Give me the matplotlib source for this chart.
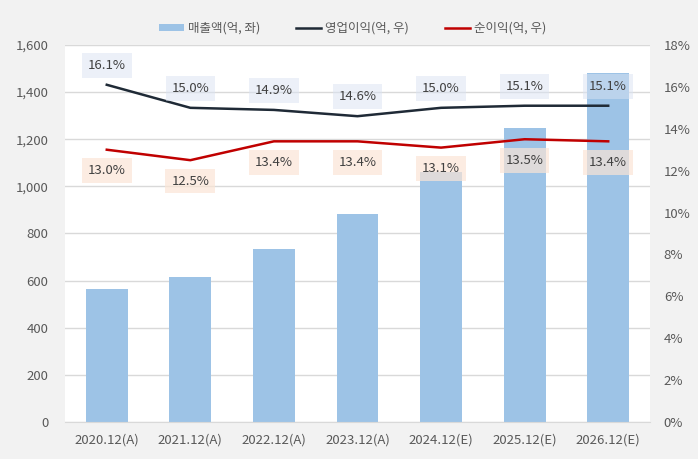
import numpy as np
import matplotlib.pyplot as plt

plt.rcParams['font.family'] = ['Noto Sans CJK KR', 'DejaVu Sans']

# 데이터
years = ['2020.12(A)', '2021.12(A)', '2022.12(A)', '2023.12(A)',
         '2024.12(E)', '2025.12(E)', '2026.12(E)']
sales = [565, 615, 735, 882, 1060, 1248, 1480]
op_margin = [16.1, 15.0, 14.9, 14.6, 15.0, 15.1, 15.1]
net_margin = [13.0, 12.5, 13.4, 13.4, 13.1, 13.5, 13.4]

txt = '#595959'
fig = plt.figure(figsize=(6.98, 4.59), dpi=100, facecolor='#f2f2f2')
ax = fig.add_axes([0.0931, 0.0806, 0.8381, 0.8214])
ax.set_facecolor('white')
x = np.arange(len(years))

ax.bar(x, sales, width=0.5, color='#9dc3e6', label='매출액(억, 좌)', zorder=2)
ax.set_ylim(0, 1600)
ax.set_yticks(range(0, 1601, 200))
ax.set_yticklabels([f'{v:,}' for v in range(0, 1601, 200)])
ax.set_xlim(-0.5, 6.5)
ax.set_xticks(x)
ax.set_xticklabels(years)
ax.grid(axis='y', color='#d9d9d9', lw=1, zorder=0)
for s in ['top', 'left', 'right']:
    ax.spines[s].set_visible(False)
ax.spines['bottom'].set_color('#d9d9d9')
ax.tick_params(length=0, colors=txt, labelsize=9.5)
ax.tick_params(axis='x', pad=8)
ax.tick_params(axis='y', pad=12)

ax2 = ax.twinx()
ax2.plot(x, op_margin, color='#1f2a36', lw=1.8, label='영업이익(억, 우)', zorder=3)
ax2.plot(x, net_margin, color='#c00000', lw=1.8, label='순이익(억, 우)', zorder=3)
ax2.set_ylim(0, 18)
ax2.set_yticks(range(0, 19, 2))
ax2.set_yticklabels([f'{v}%' for v in range(0, 19, 2)])
for s in ax2.spines.values():
    s.set_visible(False)
ax2.tick_params(length=0, colors=txt, labelsize=9.5, pad=10)

for i in x:
    ax2.annotate(f'{op_margin[i]:.1f}%', (i, op_margin[i]), xytext=(0, 14),
                 textcoords='offset points', ha='center', va='center',
                 fontsize=9.5, color='#404040', zorder=5,
                 bbox=dict(boxstyle='square,pad=0.45', fc='#dae3f3', ec='none', alpha=0.5))
    ax2.annotate(f'{net_margin[i]:.1f}%', (i, net_margin[i]), xytext=(0, -15),
                 textcoords='offset points', ha='center', va='center',
                 fontsize=9.5, color='#404040', zorder=5,
                 bbox=dict(boxstyle='square,pad=0.45', fc='#fbe5d6', ec='none', alpha=0.7))

h1, l1 = ax.get_legend_handles_labels()
h2, l2 = ax2.get_legend_handles_labels()
fig.legend(h1 + h2, l1 + l2, loc='center', bbox_to_anchor=(0.505, 0.938), ncol=3,
           frameon=False, fontsize=9, labelcolor=txt, handlelength=2.0,
           handleheight=0.55, columnspacing=2.9, handletextpad=0.3)

fig.savefig('out.png', dpi=100, facecolor=fig.get_facecolor())
